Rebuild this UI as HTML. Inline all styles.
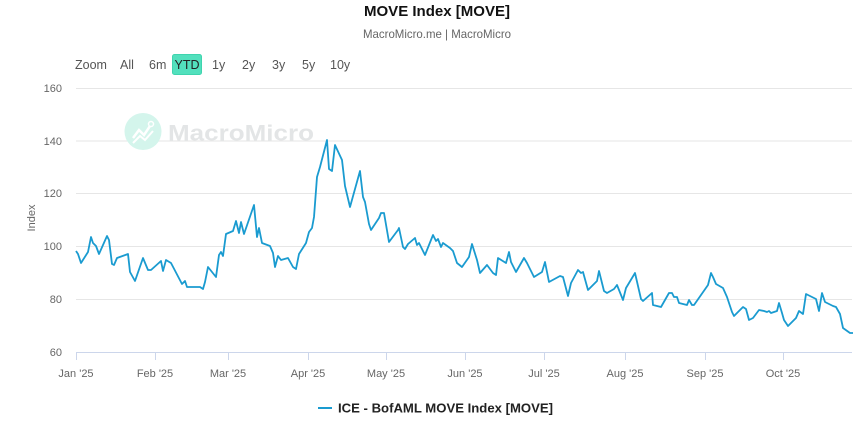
<!DOCTYPE html>
<html><head><meta charset="utf-8"><style>
html,body{margin:0;padding:0;background:#fff;}
body{width:865px;height:441px;overflow:hidden;font-family:"Liberation Sans",sans-serif;}
</style></head><body>
<svg width="865" height="441" viewBox="0 0 865 441" xmlns="http://www.w3.org/2000/svg" font-family="Liberation Sans, sans-serif">
<rect width="865" height="441" fill="#fff"/>
<text x="437" y="16" text-anchor="middle" font-size="15" font-weight="bold" fill="#111" textLength="146" lengthAdjust="spacingAndGlyphs">MOVE Index [MOVE]</text>
<text x="437" y="38" text-anchor="middle" font-size="12" fill="#666" textLength="148" lengthAdjust="spacingAndGlyphs">MacroMicro.me | MacroMicro</text>
<!-- range buttons -->
<g font-size="12.5" fill="#555">
<text x="75" y="69">Zoom</text>
<text x="120" y="69">All</text>
<text x="149" y="69">6m</text>
<rect x="172.5" y="54.5" width="29" height="20" rx="2" fill="#52e0bd" stroke="#3fd4ae" stroke-width="1"/>
<text x="187" y="69" text-anchor="middle" fill="#222">YTD</text>
<text x="212" y="69">1y</text>
<text x="242" y="69">2y</text>
<text x="272" y="69">3y</text>
<text x="302" y="69">5y</text>
<text x="330" y="69">10y</text>
</g>
<!-- grid -->
<g stroke="#e6e6e6" stroke-width="1">
<line x1="76" x2="852" y1="88.5" y2="88.5"/>
<line x1="76" x2="852" y1="141" y2="141"/>
<line x1="76" x2="852" y1="193.5" y2="193.5"/>
<line x1="76" x2="852" y1="246.5" y2="246.5"/>
<line x1="76" x2="852" y1="299.5" y2="299.5"/>
</g>
<line x1="76" x2="852" y1="352.5" y2="352.5" stroke="#ccd6eb" stroke-width="1"/>
<!-- watermark -->
<circle cx="143" cy="131.5" r="18.5" fill="#d4f5ec"/>
<polyline points="133,138 139,130 144,135 150,126" fill="none" stroke="#fff" stroke-width="2.5"/>
<polyline points="133,143 140,136 145,140 153,131" fill="none" stroke="#fff" stroke-width="2"/>
<circle cx="151" cy="124" r="2.5" fill="none" stroke="#fff" stroke-width="1.5"/>
<text x="168" y="140.5" font-size="22" font-weight="bold" fill="#e3e5e6" textLength="146" lengthAdjust="spacingAndGlyphs">MacroMicro</text>
<!-- y labels -->
<g font-size="11" fill="#666" text-anchor="end">
<text x="62" y="92">160</text>
<text x="62" y="145">140</text>
<text x="62" y="197">120</text>
<text x="62" y="250">100</text>
<text x="62" y="303">80</text>
<text x="62" y="356">60</text>
</g>
<text transform="translate(35,218) rotate(-90)" text-anchor="middle" font-size="11" fill="#666">Index</text>
<!-- x ticks -->
<g stroke="#ccd6eb" stroke-width="1">
<line x1="76.5" x2="76.5" y1="352" y2="360"/>
<line x1="155.5" x2="155.5" y1="352" y2="360"/>
<line x1="228.5" x2="228.5" y1="352" y2="360"/>
<line x1="308.5" x2="308.5" y1="352" y2="360"/>
<line x1="386.5" x2="386.5" y1="352" y2="360"/>
<line x1="465.5" x2="465.5" y1="352" y2="360"/>
<line x1="544.5" x2="544.5" y1="352" y2="360"/>
<line x1="625.5" x2="625.5" y1="352" y2="360"/>
<line x1="705.5" x2="705.5" y1="352" y2="360"/>
<line x1="783.5" x2="783.5" y1="352" y2="360"/>
</g>
<g font-size="11" fill="#666" text-anchor="middle">
<text x="76" y="377">Jan '25</text>
<text x="155" y="377">Feb '25</text>
<text x="228" y="377">Mar '25</text>
<text x="308" y="377">Apr '25</text>
<text x="386" y="377">May '25</text>
<text x="465" y="377">Jun '25</text>
<text x="544" y="377">Jul '25</text>
<text x="625" y="377">Aug '25</text>
<text x="705" y="377">Sep '25</text>
<text x="783" y="377">Oct '25</text>
</g>
<!-- series -->
<polyline fill="none" stroke="#1a9bd0" stroke-width="1.8" stroke-linejoin="round" points="
76,251 78,254 81,263 88,252 91,237 93,243 96,246 99,254 107,236 109,240 112,264 114,265 117,258 128,254 130,272 135,281 143,258 148,270 151,270 161,261 163,271 166,260 171,263 182,284 185,281 187,287 200,287 203,289 205,282 208,267 216,277 219,255 221,252 223,256 226,234 233,231 236,221 239,233 241,222 244,234 254,205 257,237 259,228 262,243 270,246 273,253 275,267 278,256 281,260 288,258 293,267 296,269 299,254 306,243 309,232 312,228 314,217 317,177 320,167 327,140 329,169 332,171 335,145 342,160 345,186 350,207 360,171 363,197 365,202 369,224 371,230 379,218 381,213 384,213 389,242 398,230 399,228 403,247 405,249 408,244 415,238 417,245 419,243 425,255 433,235 436,241 438,239 441,247 443,243 450,248 453,251 457,263 462,267 469,257 472,244 477,260 480,273 487,265 493,273 496,275 498,258 506,263 509,252 511,262 516,272 524,258 527,263 534,277 542,272 545,262 549,282 560,276 563,277 568,296 571,283 578,270 581,273 583,272 588,290 597,281 599,271 604,291 607,293 614,289 617,285 623,300 626,288 635,273 641,299 643,301 652,293 653,305 657,306 661,307 669,293 672,293 674,297 677,297 679,303 687,305 689,300 692,305 694,305 708,285 711,273 713,277 716,284 723,288 727,297 732,312 734,316 743,307 746,309 749,320 753,318 759,310 764,311 767,312 769,311 771,313 777,311 779,303 782,313 784,320 788,326 796,318 799,311 803,314 806,294 816,299 819,311 822,293 825,302 833,306 836,307 840,314 843,328 850,333 853,333"/>
<!-- legend -->
<line x1="318" x2="332" y1="408" y2="408" stroke="#1a9bd0" stroke-width="2"/>
<text x="338" y="412.5" font-size="12.5" font-weight="bold" fill="#222" textLength="215" lengthAdjust="spacingAndGlyphs">ICE - BofAML MOVE Index [MOVE]</text>
</svg>
</body></html>
